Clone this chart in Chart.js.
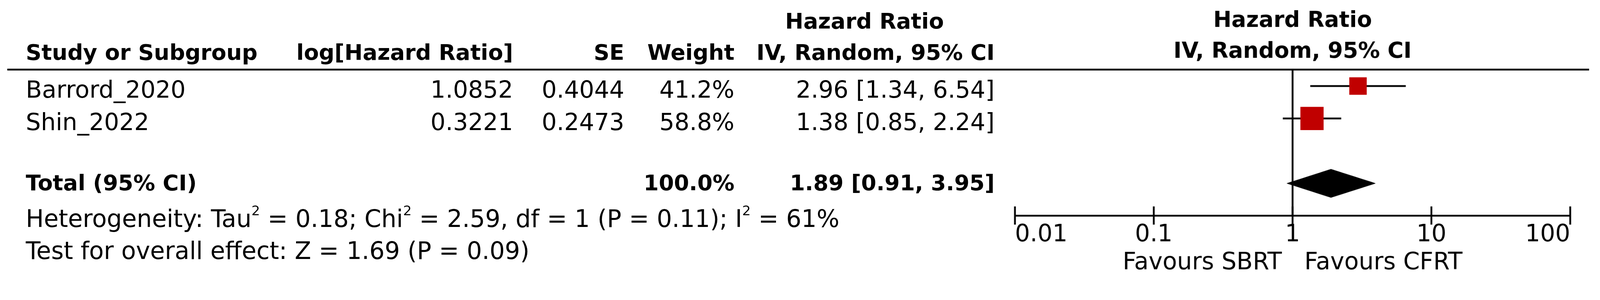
<!DOCTYPE html>
<html>
<head>
<meta charset="utf-8">
<script src="https://cdn.jsdelivr.net/npm/chart.js@4.4.1/dist/chart.umd.min.js"></script>
<style>
html, body { margin: 0; padding: 0; background: #fff; overflow: hidden; }
#wrap { position: relative; width: 4403px; height: 768px; overflow: hidden; font-family: 'DejaVu Sans', sans-serif; color: #000; transform-origin: 0 0; }
#plot { position: absolute; left: 0; top: 0; }
.t { position: absolute; white-space: nowrap; font-size: 65px; line-height: 80px; height: 80px; }
.b { font-weight: bold; font-size: 60px; }
.s { font-size: 66px; }
.rule { position: absolute; background: #000; }
sup { font-size: 0.56em; vertical-align: 0; position: relative; top: -0.9em; }
</style>
</head>
<body>
<div id="wrap">
  <canvas id="plot" width="4403" height="768"></canvas>
  <div id="table"></div>
</div>
<script>
// study data
const studies = ['Barrord_2020', 'Shin_2022'];
const logHR = [1.0852, 0.3221];
const seLogHR = [0.4044, 0.2473];
const weights = [41.2, 58.8];
const hazardRatios = [2.96, 1.38];
const ciLower = [1.34, 0.85];
const ciUpper = [6.54, 2.24];

// pooled estimate
const totalWeight = 100.0;
const totalHR = 1.89;
const totalLower = 0.91;
const totalUpper = 3.95;

// heterogeneity / overall test
const tau2 = 0.18;
const chi2 = 2.59;
const chiDf = 1;
const chiP = 0.11;
const iSquared = 61;
const overallZ = 1.69;
const overallP = 0.09;

// axis
const xTickValues = [0.01, 0.1, 1, 10, 100];
const xTickLabels = ['0.01', '0.1', '1', '10', '100'];

const RED = '#c00000';
const Y_MIN = 0.5, Y_MAX = 4.99;
const TOTAL_ROW = 4;
const DIAMOND_HALF = 0.437;

// the window we get is narrower than 4403, so scale the whole layout down to fit its width
const wrap = document.getElementById('wrap');
const fit = window.innerWidth / 4403;
if (Math.abs(fit - 1) > 0.001) wrap.style.transform = 'scale(' + fit + ')';

// small tick marks crossing the axis line
const tickMarks = {
    id: 'tickMarks',
    afterDraw(chart) {
        const sc = chart.scales.x;
        const ctx = chart.ctx;
        const yc = sc.top;
        ctx.save();
        ctx.strokeStyle = '#000';
        ctx.lineWidth = 5;
        sc.ticks.forEach(t => {
            const px = sc.getPixelForValue(t.value);
            ctx.beginPath();
            ctx.moveTo(px, yc - 25);
            ctx.lineTo(px, yc + 25);
            ctx.stroke();
        });
        ctx.restore();
    }
};

const ciSets = studies.map((s, i) => ({
    label: s + ' CI',
    data: [{ x: ciLower[i], y: i + 1 }, { x: ciUpper[i], y: i + 1 }],
    showLine: true,
    borderColor: '#000',
    borderWidth: 5,
    borderCapStyle: 'butt',
    pointRadius: 0,
    order: 1
}));

// square side grows with the study weight
const squareSet = {
    label: 'Studies',
    data: studies.map((s, i) => ({ x: hazardRatios[i], y: i + 1 })),
    pointStyle: 'rect',
    pointRadius: weights.map(w => (0.909 * w + 10.5) / Math.SQRT2),
    backgroundColor: RED,
    borderWidth: 0,
    order: 0
};

const diamondSet = {
    label: 'Total',
    data: [
        { x: totalLower, y: TOTAL_ROW },
        { x: totalHR, y: TOTAL_ROW - DIAMOND_HALF },
        { x: totalUpper, y: TOTAL_ROW },
        { x: totalHR, y: TOTAL_ROW + DIAMOND_HALF },
        { x: totalLower, y: TOTAL_ROW }
    ],
    showLine: true,
    fill: 'shape',
    borderColor: '#000',
    backgroundColor: '#000',
    borderWidth: 1,
    pointRadius: 0,
    tension: 0,
    order: 2
};

const nullLine = {
    label: 'No effect',
    data: [{ x: 1, y: Y_MIN }, { x: 1, y: Y_MAX }],
    showLine: true,
    borderColor: '#000',
    borderWidth: 5,
    pointRadius: 0,
    order: 3
};

const chart = new Chart(document.getElementById('plot'), {
    type: 'scatter',
    data: { datasets: [squareSet, ...ciSets, diamondSet, nullLine] },
    options: {
        responsive: false,
        animation: false,
        devicePixelRatio: 1,
        layout: { padding: { left: 2793, right: 82, top: 0, bottom: 0 } },
        plugins: {
            legend: { display: false },
            tooltip: { enabled: false },
            title: {
                display: true,
                text: ['Hazard Ratio', 'IV, Random, 95% CI'],
                color: '#000',
                font: { family: 'DejaVu Sans', size: 60, weight: 'bold', lineHeight: 1.417 },
                padding: { top: 15.5, bottom: 6.5 }
            }
        },
        scales: {
            x: {
                type: 'logarithmic',
                min: 0.01,
                max: 100,
                position: 'bottom',
                afterBuildTicks: sc => { sc.ticks = xTickValues.map(v => ({ value: v })); },
                ticks: {
                    align: 'inner',
                    padding: 21.5,   // counted above and below the labels
                    color: '#000',
                    autoSkip: false,
                    maxRotation: 0,
                    font: { family: 'DejaVu Sans', size: 65, lineHeight: 1.0 },
                    callback: (v, i) => xTickLabels[i]
                },
                grid: { display: true, drawOnChartArea: false, drawTicks: false },
                border: { display: true, color: '#000', width: 5 },
                title: {
                    display: true,
                    text: 'Favours SBRT   Favours CFRT',
                    color: '#000',
                    font: { family: 'DejaVu Sans', size: 65, lineHeight: 0.6 },
                    padding: { top: 3.5, bottom: 24.5 }
                }
            },
            y: { type: 'linear', display: false, reverse: true, min: Y_MIN, max: Y_MAX }
        }
    },
    plugins: [tickMarks]
});

// ---- table on the left, rows placed with the chart's y scale ----
const W = 4403;
const COL_STUDY_L = 71, COL_LOG_R = 1412, COL_SE_R = 1718, COL_W_R = 2021, COL_CI_R = 2737, HR_HEAD_C = 2379;
const table = document.getElementById('table');

function put(html, x, y, align, cls) {
    const d = document.createElement('div');
    d.className = 't' + (cls ? ' ' + cls : '');
    d.innerHTML = html;
    d.style.top = (y - 40) + 'px';
    if (align === 'right') { d.style.right = (W - x) + 'px'; d.style.textAlign = 'right'; }
    else if (align === 'center') { d.style.left = (x - 1000) + 'px'; d.style.width = '2000px'; d.style.textAlign = 'center'; }
    else d.style.left = x + 'px';
    table.appendChild(d);
}

const ys = chart.scales.y;
const headTop = 58, headRow = 143;

put('Hazard Ratio', HR_HEAD_C, headTop, 'center', 'b');
put('Study or Subgroup', COL_STUDY_L, headRow, 'left', 'b');
put('log[Hazard Ratio]', COL_LOG_R, headRow, 'right', 'b');
put('SE', COL_SE_R, headRow, 'right', 'b');
put('Weight', COL_W_R, headRow, 'right', 'b');
put('IV, Random, 95% CI', COL_CI_R, headRow, 'right', 'b');

const rule = document.createElement('div');
rule.className = 'rule';
rule.style.left = '20px';
rule.style.width = '4353px';
rule.style.top = (chart.chartArea.top - 3) + 'px';
rule.style.height = '5px';
table.appendChild(rule);

studies.forEach((s, i) => {
    const y = ys.getPixelForValue(i + 1) + 10;
    put(s, COL_STUDY_L, y, 'left');
    put(logHR[i].toFixed(4), COL_LOG_R, y, 'right');
    put(seLogHR[i].toFixed(4), COL_SE_R, y, 'right');
    put(weights[i].toFixed(1) + '%', COL_W_R, y, 'right');
    put(hazardRatios[i].toFixed(2) + ' [' + ciLower[i].toFixed(2) + ', ' + ciUpper[i].toFixed(2) + ']', COL_CI_R, y, 'right');
});

const yTot = ys.getPixelForValue(TOTAL_ROW) - 2;
put('Total (95% CI)', COL_STUDY_L, yTot, 'left', 'b');
put(totalWeight.toFixed(1) + '%', COL_W_R, yTot, 'right', 'b');
put(totalHR.toFixed(2) + ' [' + totalLower.toFixed(2) + ', ' + totalUpper.toFixed(2) + ']', COL_CI_R, yTot, 'right', 'b');

put('Heterogeneity: Tau<sup>2</sup> = ' + tau2.toFixed(2) + '; Chi<sup>2</sup> = ' + chi2.toFixed(2) +
    ', df = ' + chiDf + ' (P = ' + chiP.toFixed(2) + '); I<sup>2</sup> = ' + iSquared + '%', COL_STUDY_L, 603, 'left', 's');
put('Test for overall effect: Z = ' + overallZ.toFixed(2) + ' (P = ' + overallP.toFixed(2) + ')', COL_STUDY_L, 691, 'left', 's');
</script>
</body>
</html>
